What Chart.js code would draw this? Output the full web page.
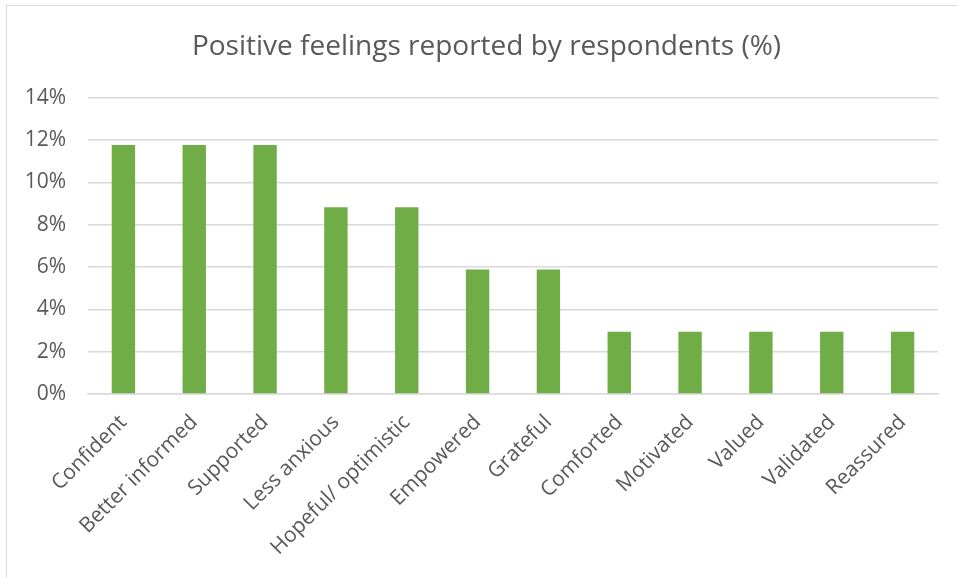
<!DOCTYPE html>
<html>
<head>
<meta charset="utf-8">
<script src="https://cdn.jsdelivr.net/npm/chart.js@4"></script>
<style>
  body { margin: 0; background: #fff; overflow: hidden; }
  #wrap { position: relative; width: 957px; height: 578px; overflow: hidden; }
  #frame { position: absolute; left: 6px; top: 5px; width: 951px; height: 573px; border-left: 1px solid #d9d9d9; border-top: 1px solid #d9d9d9; pointer-events: none; }
</style>
</head>
<body>
<div id="wrap">
  <canvas id="feelings" width="957" height="578"></canvas>
  <div id="frame"></div>
</div>
<script>
var categories = ['Confident','Better informed','Supported','Less anxious','Hopeful/ optimistic','Empowered','Grateful','Comforted','Motivated','Valued','Validated','Reassured'];
var percentages = [11.76, 11.76, 11.76, 8.82, 8.82, 5.88, 5.88, 2.94, 2.94, 2.94, 2.94, 2.94];
var yTicks = [0, 2, 4, 6, 8, 10, 12, 14];

document.addEventListener("DOMContentLoaded", function(){
  var ctx = document.getElementById('feelings').getContext('2d');
  var textColour = '#595959';
  var gridColour = '#d9d9d9';
  new Chart(ctx, {
    type: 'bar',
    data: {
      labels: categories,
      datasets: [{
        label: 'Positive feelings',
        data: percentages,
        backgroundColor: '#70ad47',
        categoryPercentage: 1,
        barPercentage: 0.33
      }]
    },
    options: {
      responsive: false,
      animation: false,
      layout: { padding: { left: 16, right: 0, top: 0, bottom: 0 } },
      plugins: {
        legend: { display: false },
        tooltip: { enabled: false },
        title: {
          display: true,
          text: 'Positive feelings reported by respondents (%)',
          color: textColour,
          font: { family: 'Open Sans', size: 28, weight: 'normal' },
          padding: { top: 30, bottom: 34 }
        }
      },
      scales: {
        x: {
          grid: { display: false },
          border: { display: true, color: gridColour, width: 1.5 },
          ticks: {
            color: textColour,
            font: { family: 'Open Sans', size: 21 },
            maxRotation: 45,
            minRotation: 45,
            padding: 8
          },
          afterFit: function(scale){ scale.height = 184; }
        },
        y: {
          min: 0,
          max: 14,
          afterBuildTicks: function(scale){
            scale.ticks = yTicks.map(function(v){ return { value: v }; });
          },
          grid: { color: gridColour, lineWidth: 1.5, drawTicks: false },
          border: { display: false },
          ticks: {
            color: textColour,
            font: { family: 'Open Sans', size: 21 },
            padding: 22,
            callback: function(v){ return v + '%'; }
          },
          afterFit: function(scale){ scale.width = 72; }
        },
        // empty right-hand gap so the title centres like the original
        gap: {
          position: 'right',
          min: 0,
          max: 14,
          grid: { display: false },
          border: { display: false },
          ticks: { display: false },
          afterFit: function(scale){ scale.width = 19; }
        }
      }
    }
  });
});
</script>
</body>
</html>
